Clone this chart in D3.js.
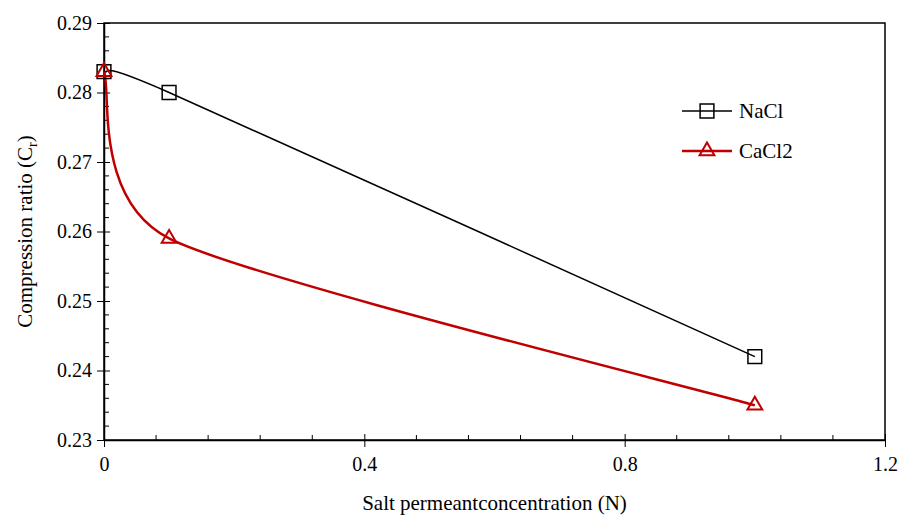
<!DOCTYPE html>
<html>
<head>
<meta charset="utf-8">
<script src="https://cdn.jsdelivr.net/npm/d3@7"></script>
<style>
  body { margin: 0; background: #fff; }
  text { font-family: "Liberation Serif", "Times New Roman", serif; }
</style>
</head>
<body>
<svg id="chart" width="902" height="515"></svg>
<script>
// data
const concentration = [0, 0.1, 1.0];
const nacl = [0.283, 0.280, 0.242];
const cacl2 = [0.283, 0.259, 0.235];
const xTicks = [0, 0.4, 0.8, 1.2];
const yTicks = [0.23, 0.24, 0.25, 0.26, 0.27, 0.28, 0.29];

const svg = d3.select("#chart"),
      margin = { top: 23, right: 17, bottom: 75, left: 104 },
      width = +svg.attr("width") - margin.left - margin.right,
      height = +svg.attr("height") - margin.top - margin.bottom;

const g = svg.append("g").attr("transform", `translate(${margin.left},${margin.top})`);

const x = d3.scaleLinear().domain([0, 1.2]).range([0, width]);
const y = d3.scaleLinear().domain([0.23, 0.29]).range([height, 0]);

// minor ticks (inside)
const xMinor = d3.range(0, 1.2001, 0.08).filter(v => xTicks.every(t => Math.abs(t - v) > 1e-6));
const yMinor = d3.range(0.23, 0.2901, 0.002).filter(v => yTicks.every(t => Math.abs(t - v) > 1e-6));

g.selectAll(".xminor").data(xMinor).enter().append("line")
  .attr("x1", d => x(d)).attr("x2", d => x(d))
  .attr("y1", height).attr("y2", height - 5)
  .attr("stroke", "#000").attr("stroke-width", 1);

g.selectAll(".yminor").data(yMinor).enter().append("line")
  .attr("y1", d => y(d)).attr("y2", d => y(d))
  .attr("x1", 0).attr("x2", 5)
  .attr("stroke", "#000").attr("stroke-width", 1);

// frame
g.append("rect")
  .attr("width", width).attr("height", height)
  .attr("fill", "none").attr("stroke", "#000").attr("stroke-width", 1.5);

// X axis
const xAxis = g.append("g")
  .attr("transform", `translate(0,${height})`)
  .call(d3.axisBottom(x).tickValues(xTicks).tickFormat(d => d === 0 ? "0" : d3.format(".1f")(d)).tickSizeInner(7).tickSizeOuter(0));
xAxis.select(".domain").attr("stroke-width", 1.5);
xAxis.selectAll(".tick line").attr("y1", -6).attr("stroke-width", 1);
xAxis.selectAll("text").attr("font-size", 20).attr("fill", "#000").attr("dy", "1.05em");

// Y axis
const yAxis = g.append("g")
  .call(d3.axisLeft(y).tickValues(yTicks).tickFormat(d3.format(".2f")).tickSizeInner(7).tickSizeOuter(0));
yAxis.select(".domain").attr("stroke-width", 1.5);
yAxis.selectAll(".tick line").attr("x1", 6).attr("stroke-width", 1);
yAxis.selectAll("text").attr("font-size", 20).attr("fill", "#000").attr("x", -12);

// spreadsheet-style smoothed line: bezier through the points
function smoothPath(pts, k) {
  const p = pts.map(d => [x(d[0]), y(d[1])]);
  const n = p.length;
  const path = d3.path();
  path.moveTo(p[0][0], p[0][1]);
  for (let i = 0; i < n - 1; i++) {
    const a = p[Math.max(i - 1, 0)], b = p[i], c = p[i + 1], e = p[Math.min(i + 2, n - 1)];
    path.bezierCurveTo(
      b[0] + k * (c[0] - a[0]), b[1] + k * (c[1] - a[1]),
      c[0] - k * (e[0] - b[0]), c[1] - k * (e[1] - b[1]),
      c[0], c[1]);
  }
  return path.toString();
}

const series = [
  { name: "NaCl", values: nacl, color: "#000", width: 1.5, marker: "square" },
  { name: "CaCl2", values: cacl2, color: "#c00000", width: 2.5, marker: "triangle" }
];

series.forEach(s => {
  const pts = concentration.map((c, i) => [c, s.values[i]]);
  g.append("path")
    .attr("fill", "none")
    .attr("stroke", s.color)
    .attr("stroke-width", s.width)
    .attr("d", smoothPath(pts, 0.7 / 6));
});

const symSquare = d3.symbol().type(d3.symbolSquare).size(190);
const symTri = d3.symbol().type(d3.symbolTriangle).size(95);

series.forEach(s => {
  g.selectAll(".m-" + s.name)
    .data(concentration.map((c, i) => [c, s.values[i]]))
    .enter().append("path")
    .attr("transform", d => `translate(${x(d[0])},${y(d[1])})`)
    .attr("d", s.marker === "square" ? symSquare : symTri)
    .attr("fill", "none")
    .attr("stroke", s.color)
    .attr("stroke-width", s.marker === "square" ? 1.5 : 2);
});

// legend
const legend = svg.append("g").attr("transform", "translate(682,111)");
series.forEach((s, i) => {
  const row = legend.append("g").attr("transform", `translate(0,${i * 40})`);
  row.append("line").attr("x1", 0).attr("x2", 50)
    .attr("stroke", s.color).attr("stroke-width", s.width);
  row.append("path")
    .attr("transform", "translate(25,0)")
    .attr("d", s.marker === "square" ? symSquare : symTri)
    .attr("fill", "none").attr("stroke", s.color)
    .attr("stroke-width", s.marker === "square" ? 1.5 : 2);
  row.append("text").attr("x", 57).attr("y", 0).attr("dy", "0.35em")
    .attr("font-size", 21).text(s.name);
});

// axis titles
svg.append("text")
  .attr("x", margin.left + width / 2).attr("y", 510)
  .attr("text-anchor", "middle").attr("font-size", 21)
  .text("Salt permeantconcentration (N)");

const yt = svg.append("text")
  .attr("transform", `translate(32,${margin.top + height / 2}) rotate(-90)`)
  .attr("text-anchor", "middle").attr("font-size", 21);
yt.append("tspan").text("Compression ratio (C");
yt.append("tspan").attr("font-size", 14).attr("dy", 5).text("r");
yt.append("tspan").attr("dy", -5).text(")");
</script>
</body>
</html>
